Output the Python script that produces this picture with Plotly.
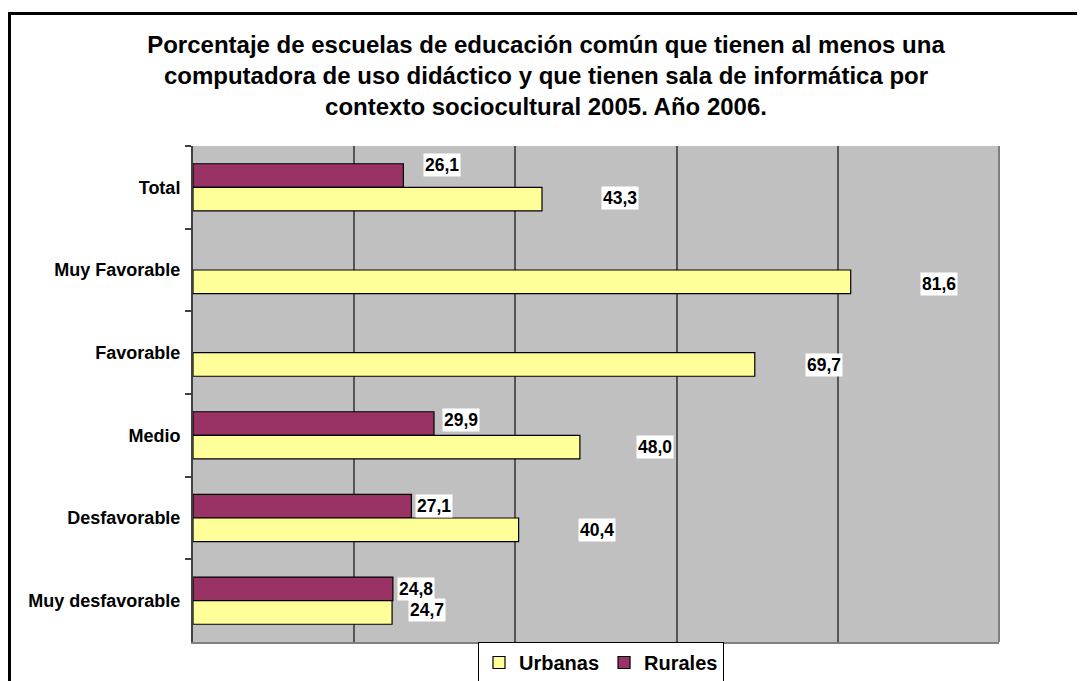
import plotly.graph_objects as go

# ---- data ----
categories = ["Total", "Muy Favorable", "Favorable", "Medio", "Desfavorable", "Muy desfavorable"]
urbanas = [43.3, 81.6, 69.7, 48.0, 40.4, 24.7]
rurales = [26.1, None, None, 29.9, 27.1, 24.8]
title_lines = [
    "Porcentaje de escuelas de educación común que tienen al menos una",
    "computadora de uso didáctico y que tienen sala de informática por",
    "contexto sociocultural 2005. Año 2006.",
]

# ---- style (label offsets in pixels, mimicking the original placement) ----
urb_label_dx = [78, 88, 69, 75, 78, 35]
urb_label_dy = [-1, 2, 1, 0, 0, -2]
rur_label_dx = [39, 0, 0, 27, 23, 23]
rur_label_dy = [-11, 0, 0, -4, 0, 0]

OFF = 8  # default page body margin
W, H = 1085 - OFF, 681 - OFF
ML = 193 - OFF
MT = 146 - OFF
MR = W - (999 - OFF)
MB = H - (642 - OFF)
PW, PH = W - ML - MR, H - MT - MB
FONT = "Arial, Liberation Sans, sans-serif"


def fmt(v):
    return f"{v:.1f}".replace(".", ",")


def px_to_paper_x(px):  # px in reference page coords
    return (px - OFF - ML) / PW


def px_to_paper_y(py):
    return (H - MB - (py - OFF)) / PH


fig = go.Figure()
fig.add_trace(go.Bar(
    y=categories, x=rurales, orientation="h", name="Rurales",
    marker=dict(color="#993366", line=dict(color="#000000", width=1.2)),
    legendrank=2, hoverinfo="skip",
))
fig.add_trace(go.Bar(
    y=categories, x=urbanas, orientation="h", name="Urbanas",
    marker=dict(color="#FFFF99", line=dict(color="#000000", width=1.2)),
    legendrank=1, hoverinfo="skip",
))

BARGAP = 0.43
half_bar = PH / len(categories) * (1 - BARGAP) / 4

annotations = []
for i, c in enumerate(categories):
    v = urbanas[i]
    if v is not None:
        annotations.append(dict(
            x=v, y=c, xref="x", yref="y", text=f"<b>{fmt(v)}</b>", showarrow=False,
            xshift=urb_label_dx[i], yshift=-half_bar - urb_label_dy[i],
            bgcolor="#FFFFFF", borderpad=1,
            font=dict(family=FONT, size=17.5, color="#000000"),
        ))
    v = rurales[i]
    if v is not None:
        annotations.append(dict(
            x=v, y=c, xref="x", yref="y", text=f"<b>{fmt(v)}</b>", showarrow=False,
            xshift=rur_label_dx[i], yshift=half_bar - rur_label_dy[i],
            bgcolor="#FFFFFF", borderpad=1,
            font=dict(family=FONT, size=17.5, color="#000000"),
        ))

shapes = [
    # outer chart frame (cropped on right and bottom)
    dict(type="rect", xref="paper", yref="paper",
         x0=px_to_paper_x(9.5), x1=px_to_paper_x(1085 + 20),
         y0=px_to_paper_y(13.5), y1=px_to_paper_y(681 + 20),
         line=dict(color="#000000", width=3), fillcolor="rgba(0,0,0,0)", layer="above"),
    # right edge of plot area
    dict(type="line", xref="paper", yref="paper", x0=1, x1=1, y0=0, y1=1,
         line=dict(color="#808080", width=2)),
]

fig.update_layout(
    width=W, height=H,
    margin=dict(l=ML, r=MR, t=MT, b=MB, autoexpand=False),
    paper_bgcolor="#FFFFFF", plot_bgcolor="#C0C0C0",
    barmode="group", bargap=BARGAP, bargroupgap=0,
    title=dict(
        text="<br>".join(title_lines),
        font=dict(family=FONT, size=24, color="#000000", weight="bold"),
        x=(546 - OFF) / W, xref="container", xanchor="center",
        y=(H - 45) / H, yref="container", yanchor="top",
    ),
    xaxis=dict(
        range=[0, 100], dtick=20, showticklabels=False, ticks="",
        showgrid=True, gridcolor="#555555", gridwidth=1.5,
        showline=True, linecolor="#808080", linewidth=2, zeroline=False,
        fixedrange=True,
    ),
    yaxis=dict(
        autorange="reversed", tickson="boundaries", ticks="outside", ticklen=6,
        tickcolor="#404040", tickwidth=1.5,
        showline=True, linecolor="#404040", linewidth=2,
        tickfont=dict(family=FONT, size=18, color="#000000", weight="bold"),
        ticklabelstandoff=7, showgrid=False,
    ),
    legend=dict(
        orientation="h", x=px_to_paper_x(601), xanchor="center",
        y=px_to_paper_y(642), yanchor="top",
        bordercolor="#000000", borderwidth=1, bgcolor="#FFFFFF",
        font=dict(family=FONT, size=20, color="#000000", weight="bold"),
        itemwidth=30, tracegroupgap=0,
    ),
    annotations=annotations,
    shapes=shapes,
    showlegend=True,
)

fig.write_html("out.html")
